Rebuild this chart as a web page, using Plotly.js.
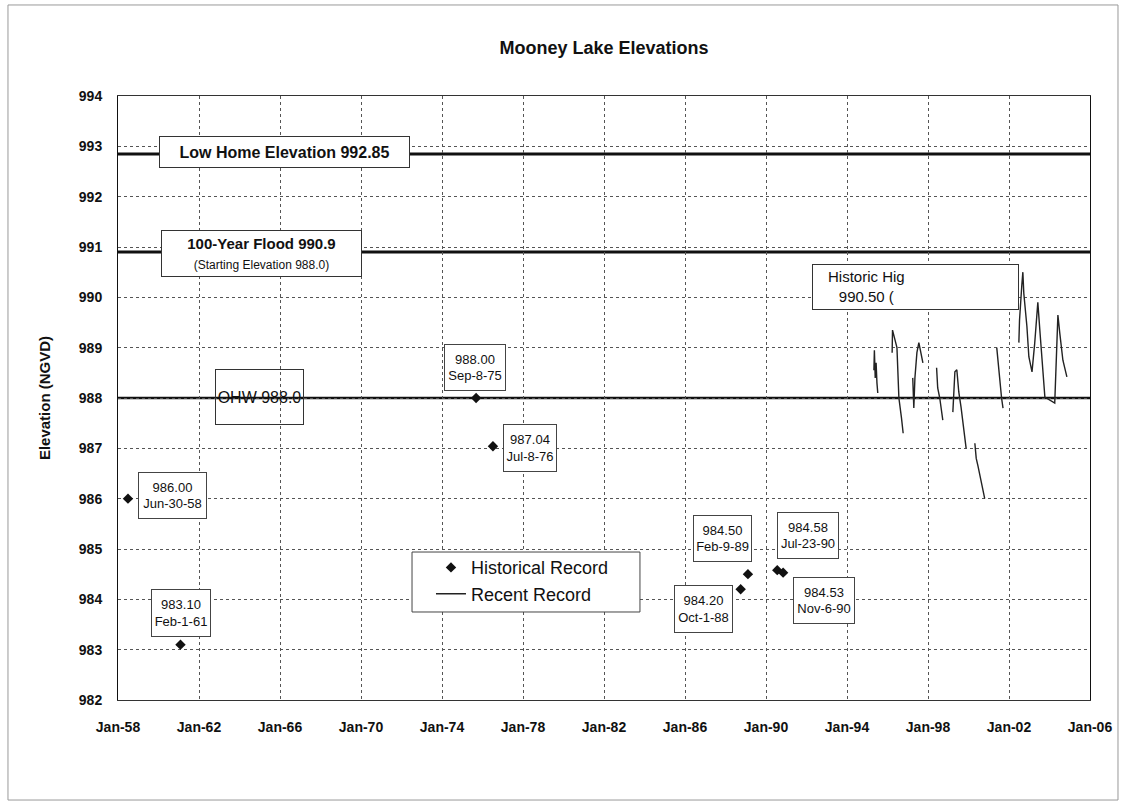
<!DOCTYPE html>
<html><head><meta charset="utf-8">
<script src="https://cdn.plot.ly/plotly-3.0.1.min.js"></script>
<style>html,body{margin:0;padding:0;background:#fff;}#chart{width:1123px;height:809px;}</style>
</head><body><div id="chart"></div>
<script>
// ---- data ----
const chartTitle = 'Mooney Lake Elevations';
const yTitle = 'Elevation (NGVD)';
const histDates  = ['1958-06-30','1961-02-01','1975-09-08','1976-07-08','1988-10-01','1989-02-09','1990-07-23','1990-11-06'];
const histValues = [986.00, 983.10, 988.00, 987.04, 984.20, 984.50, 984.58, 984.53];
const histDateLabels = ['Jun-30-58','Feb-1-61','Sep-8-75','Jul-8-76','Oct-1-88','Feb-9-89','Jul-23-90','Nov-6-90'];

const recentDates = [
 '1995-05-01','1995-05-10','1995-05-25','1995-06-10','1995-06-25','1995-07-10','1995-10-01',
 '1996-03-25','1996-04-01','1996-06-20','1996-07-25','1996-09-10','1996-10-10','1996-12-01',
 '1997-04-01','1997-04-20','1997-05-10','1997-06-15','1997-07-20','1997-08-20','1997-10-01','1998-01-01',
 '1998-06-05','1998-06-25','1998-08-01','1998-09-25','1998-12-01',
 '1999-03-25','1999-05-01','1999-06-05','1999-07-10','1999-08-20','1999-10-10','1999-11-20','2000-02-01',
 '2000-04-25','2000-05-20','2000-06-20','2000-08-15','2000-10-20','2001-02-01',
 '2001-05-25','2001-07-05','2001-08-20','2001-09-15','2002-01-01',
 '2002-06-28','2002-07-10','2002-08-20','2002-09-08','2002-09-25','2002-11-20','2002-12-25','2003-02-20',
 '2003-04-10','2003-06-05','2003-07-15','2003-09-05','2003-10-10','2004-04-05','2004-06-01','2004-07-05',
 '2004-08-30','2004-11-10'
];
const recentValues = [
 988.55, 988.95, 988.40, 988.70, 988.30, 988.10, null,
 988.90, 989.35, 989.00, 988.00, 987.60, 987.30, null,
 988.40, 987.80, 988.40, 988.90, 989.10, 988.90, 988.70, null,
 988.60, 988.20, 988.00, 987.56, null,
 987.72, 988.52, 988.56, 988.12, 987.82, 987.36, 987.00, null,
 987.10, 986.80, 986.65, 986.37, 986.00, null,
 989.00, 988.50, 988.00, 987.80, null,
 989.10, 989.55, 990.24, 990.50, 990.08, 989.42, 988.82, 988.52,
 989.09, 989.90, 989.29, 988.62, 988.02, 987.90, 989.65, 989.29,
 988.75, 988.42
];

const refLevels = [992.85, 990.9, 988.0];
const refLabels = ['<b>Low Home Elevation 992.85</b>',
  '<b>100-Year Flood 990.9</b><br><span style="font-size:12px">(Starting Elevation 988.0)</span>',
  'OHW 988.0'];
const historicHighText = 'Historic Hig<br>990.50 (';

// ---- layout helpers (positions/styles) ----
const labelBoxPos = [
  {x:'1960-09-10', y:986.06, w:67, h:45},
  {x:'1961-02-10', y:983.73, w:58, h:46},
  {x:'1975-08-25', y:988.61, w:60, h:45},
  {x:'1978-05-08', y:987.01, w:52, h:46},
  {x:'1986-11-28', y:983.81, w:57, h:46},
  {x:'1987-11-06', y:985.21, w:57, h:45},
  {x:'1992-01-26', y:985.27, w:60, h:45},
  {x:'1992-11-10', y:983.98, w:60, h:45}
];
const refBoxPos = [
  {x:'1966-03-20', y:992.887, w:249, h:30, size:16},
  {x:'1965-02-01', y:990.87, w:199, h:45, size:15},
  {x:'1964-12-28', y:988.02, w:87, h:54, size:16}
];

const FONT = 'Liberation Sans, Arial, sans-serif';
const annotations = [];
refLabels.forEach((t,i)=>{
  const p = refBoxPos[i];
  annotations.push({x:p.x, y:p.y, xref:'x', yref:'y', text:t, showarrow:false,
    xanchor:'center', yanchor:'middle', width:p.w, height:p.h,
    bgcolor:(i===2?'rgba(255,255,255,0)':'#fff'), bordercolor:'#333', borderwidth:1, borderpad:0,
    font:{family:FONT, size:p.size, color:'#111'}});
});
histValues.forEach((v,i)=>{
  const p = labelBoxPos[i];
  annotations.push({x:p.x, y:p.y, xref:'x', yref:'y',
    text: v.toFixed(2)+'<br>'+histDateLabels[i], showarrow:false,
    xanchor:'center', yanchor:'middle', width:p.w, height:p.h,
    bgcolor:'#fff', bordercolor:'#444', borderwidth:1, borderpad:0,
    font:{family:FONT, size:13, color:'#111'}});
});
annotations.push({x:'1997-05-18', y:990.2, xref:'x', yref:'y', text:'&nbsp;', showarrow:false,
  xanchor:'center', yanchor:'middle', width:205, height:44, bgcolor:'#fff',
  bordercolor:'#333', borderwidth:1, borderpad:0, font:{family:FONT,size:15}});
annotations.push({x:'1994-12-10', y:990.215, xref:'x', yref:'y', text:historicHighText, showarrow:false,
  xanchor:'center', yanchor:'middle', font:{family:FONT, size:15, color:'#111'}});

const shapes = [];
// outer frame
shapes.push({type:'rect', xref:'paper', yref:'paper', x0:-0.1132, x1:1.0288, y0:-0.1656, y1:1.1507,
  line:{color:'#999', width:1}, fillcolor:'rgba(0,0,0,0)', layer:'below'});
// reference lines
const refWidths = [3, 3, 2.5];
refLevels.forEach((y,i)=>{
  shapes.push({type:'line', xref:'paper', yref:'y', x0:0, x1:1, y0:y, y1:y,
    line:{color:'#111', width:refWidths[i]}, layer:'between'});
});
// legend box
shapes.push({type:'rect', xref:'paper', yref:'paper', x0:0.3025, x1:0.5370, y0:0.1457, y1:0.2450,
  line:{color:'#444', width:1}, fillcolor:'#fff', layer:'above'});

const traces = [
  {x:histDates, y:histValues, type:'scatter', mode:'markers', name:'Historical Record',
   marker:{symbol:'diamond', size:8, color:'#111'}},
  {x:recentDates, y:recentValues, type:'scatter', mode:'lines', name:'Recent Record',
   connectgaps:false, line:{color:'#222', width:1.4}}
];

const layout = {
  width:1123, height:809,
  margin:{l:118, r:33, t:96, b:109},
  paper_bgcolor:'#fff', plot_bgcolor:'#fff',
  title:{text:'<b>'+chartTitle+'</b>', x:0.5, xref:'paper', y:1-48/809, yanchor:'middle',
    font:{family:FONT, size:18, color:'#111'}},
  showlegend:true,
  legend:{x:0.322, y:0.2497, xanchor:'left', yanchor:'top', bgcolor:'rgba(0,0,0,0)',
    borderwidth:0, font:{family:FONT, size:18, color:'#111'}},
  xaxis:{type:'date', range:['1958-01-01','2006-01-01'], tick0:'1958-01-01', dtick:'M48',
    tickformat:'%b-%y', showgrid:true, gridcolor:'#555', griddash:'dot', gridwidth:1,
    showline:true, linecolor:'#333', linewidth:1, mirror:true, zeroline:false,
    ticks:'', ticklabelstandoff:14,
    tickfont:{family:FONT, size:14, color:'#111', weight:'bold'}},
  yaxis:{range:[982,994], dtick:1, tick0:982, showgrid:true, gridcolor:'#555', griddash:'dot', gridwidth:1,
    showline:true, linecolor:'#111', linewidth:1, mirror:true, zeroline:false,
    ticks:'', ticklabelstandoff:12,
    tickfont:{family:FONT, size:14, color:'#111', weight:'bold'},
    title:{text:'<b>'+yTitle+'</b>', standoff:24, font:{family:FONT, size:15, color:'#111'}}},
  shapes:shapes,
  annotations:annotations
};

Plotly.newPlot('chart', traces, layout, {displayModeBar:false, staticPlot:true});
</script>
</body></html>
